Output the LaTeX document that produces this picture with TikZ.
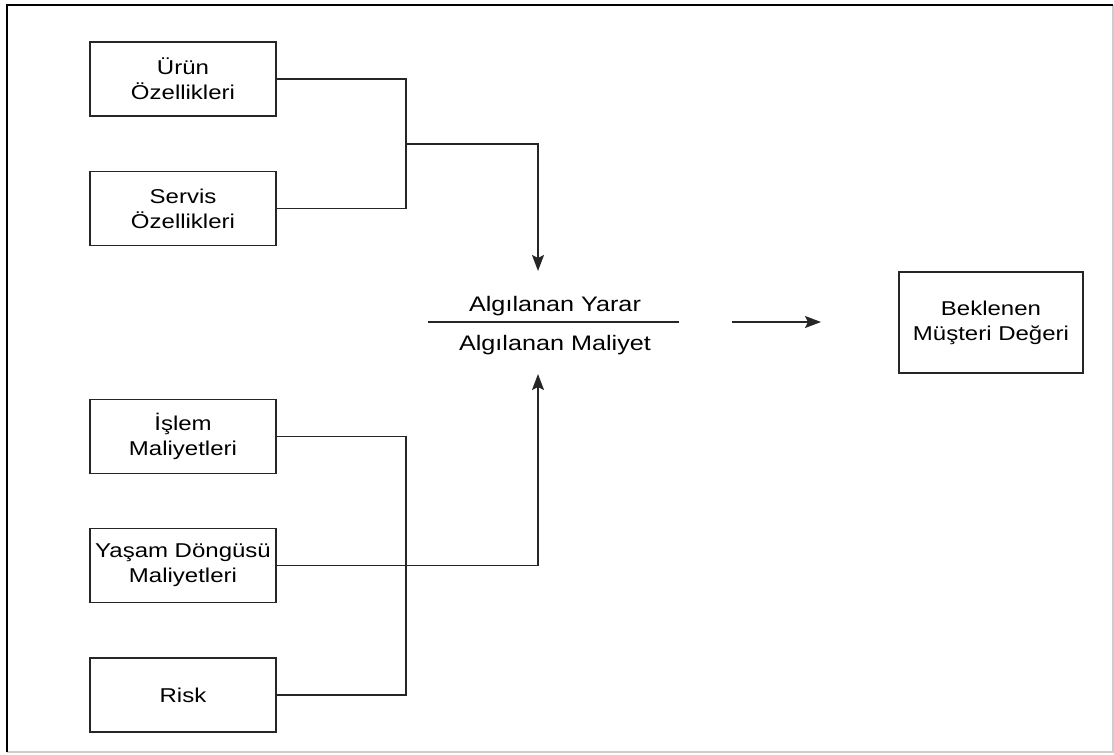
\documentclass[tikz,border=0pt]{standalone}
\usepackage{fontspec}
\setmainfont{Liberation Sans}[FakeStretch=1.2]
\usetikzlibrary{arrows.meta}
\begin{document}
\begin{tikzpicture}[x=1pt,y=-1pt,
  box/.style={draw=black!85, line width=1.8pt, minimum width=186pt, minimum height=74pt,
    align=center, inner sep=0pt, font=\fontsize{20}{25}\selectfont},
  conn/.style={draw=black!85, line width=1.6pt},
  arr/.style={conn, -{Stealth[length=16pt,width=12pt,inset=3pt]}},
  lbl/.style={font=\fontsize{21}{25}\selectfont, anchor=base, inner sep=0pt}]
\useasboundingbox (0,0) rectangle (1114,755);

% page frame
\draw[black!20, line width=1.5pt] (1113,5) -- (1113,752) -- (7,752);
\draw[black, line width=2.2pt] (7,752) -- (7,5) -- (1113,5);

% benefit inputs
\node[box] (urun)   at (183,79)    {Ürün\\Özellikleri};
\node[box] (servis) at (183,208.5) {Servis\\Özellikleri};

% cost inputs
\node[box] (islem)  at (183,436.5) {İşlem\\Maliyetleri};
\node[box] (yasam)  at (183,565.5) {Yaşam Döngüsü\\Maliyetleri};
\node[box] (risk)   at (183,695)   {Risk};

% result
\node[box, minimum width=184pt, minimum height=101pt] (beklenen) at (991,322.5)
  {Beklenen\\Müşteri Değeri};

% benefit / cost ratio
\node[lbl] (yarar)   at (555,311) {Algılanan Yarar};
\node[lbl] (maliyet) at (555,350) {Algılanan Maliyet};
\coordinate (fracL) at (428,322);
\coordinate (fracR) at (679,322);
\draw[conn] (fracL) -- (fracR);

% connector points
\coordinate (busTop) at (406,144);
\coordinate (tipTop) at (538,271);
\coordinate (busBot) at (406,565.5);
\coordinate (tipBot) at (538,374);
\coordinate (outS)   at (732,322);
\coordinate (outE)   at (821,322);

% connectors
\draw[conn] (urun.east) -| (busTop) |- (servis.east);
\draw[arr] (busTop) -| (tipTop);
\draw[conn] (islem.east) -| (busBot) |- (risk.east);
\draw[arr] (yasam.east) -| (tipBot);
\draw[arr] (outS) -- (outE);
\end{tikzpicture}
\end{document}
